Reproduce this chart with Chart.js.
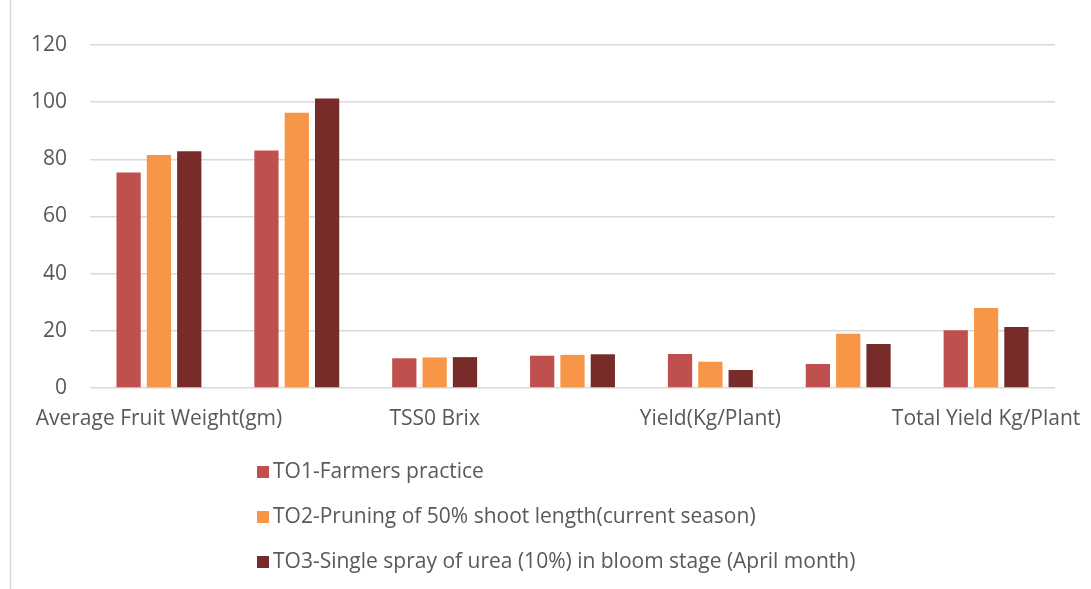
<!DOCTYPE html>
<html>
<head>
<meta charset="utf-8">
<script src="https://cdn.jsdelivr.net/npm/chart.js@4.4.0/dist/chart.umd.min.js"></script>
<style>
    html, body { margin: 0; padding: 0; background: #fff; }
    #wrap { width: 1091px; height: 589px; }
</style>
</head>
<body>
<div id="wrap"><canvas id="bar-chart" width="1091" height="589"></canvas></div>
<script>
/* chart data */
const categories = ["Average Fruit Weight(gm)", "", "TSS0 Brix", "", "Yield(Kg/Plant)", "", "Total Yield Kg/Plant"];
const seriesNames = [
    "TO1-Farmers practice",
    "TO2-Pruning of 50% shoot length(current season)",
    "TO3-Single spray of urea (10%) in bloom stage (April month)"
];
const to1Values = [75.4, 83.1, 10.4, 11.3, 11.9, 8.4, 20.2];
const to2Values = [81.5, 96.3, 10.7, 11.6, 9.2, 19.0, 28.0];
const to3Values = [82.8, 101.3, 10.8, 11.8, 6.3, 15.4, 21.3];
const seriesColors = ["#C0504D", "#F79646", "#772C2A"];

const fontFamily = "'Open Sans', 'Noto Sans', sans-serif";
const textColor = "#595959";
const gridColor = "#D9D9D9";

/*
    legend drawn as a vertical list under the plot + left frame line
*/
const listLegend = {
    id: "listLegend",
    beforeDraw(chart) {
        const ctx = chart.ctx;
        ctx.save();
        ctx.strokeStyle = gridColor;
        ctx.lineWidth = 1.5;
        ctx.beginPath();
        ctx.moveTo(10.5, 0);
        ctx.lineTo(10.5, chart.height);
        ctx.stroke();
        ctx.restore();
    },
    afterDraw(chart) {
        const ctx = chart.ctx;
        ctx.save();
        ctx.font = "21px " + fontFamily;
        ctx.textBaseline = "middle";
        chart.data.datasets.forEach((ds, i) => {
            const y = 472 + i * 45;
            ctx.fillStyle = ds.backgroundColor;
            ctx.fillRect(257, y - 6, 12, 12);
            ctx.fillStyle = textColor;
            ctx.fillText(ds.label, 273, y);
        });
        ctx.restore();
    }
};

const ctx = document.getElementById("bar-chart").getContext("2d");

const barChart = new Chart(ctx, {
    type: "bar",
    data: {
        labels: categories,
        datasets: [to1Values, to2Values, to3Values].map((vals, i) => ({
            label: seriesNames[i],
            data: vals,
            backgroundColor: seriesColors[i],
            borderWidth: 0,
            barPercentage: 0.8,
            categoryPercentage: 0.66
        }))
    },
    options: {
        responsive: false,
        animation: false,
        layout: {
            padding: { top: 45, right: 36, bottom: 141, left: 0 }
        },
        plugins: {
            legend: { display: false },
            tooltip: { enabled: false }
        },
        scales: {
            x: {
                grid: { display: false, drawTicks: false },
                border: { display: false },
                ticks: {
                    autoSkip: false,
                    maxRotation: 0,
                    padding: 18,
                    color: textColor,
                    font: { family: fontFamily, size: 21 }
                },
                afterFit: (scale) => {
                    scale.height = 60;
                    // labels may overhang the plot edges like in the original
                    scale.paddingLeft = 0;
                    scale.paddingRight = 0;
                }
            },
            y: {
                min: 0,
                max: 120,
                ticks: {
                    stepSize: 20,
                    padding: 23,
                    color: textColor,
                    font: { family: fontFamily, size: 21 }
                },
                grid: { color: gridColor, lineWidth: 1.5, drawTicks: false },
                border: { display: false },
                afterFit: (scale) => { scale.width = 90; }
            }
        }
    },
    plugins: [listLegend]
});
</script>
</body>
</html>
